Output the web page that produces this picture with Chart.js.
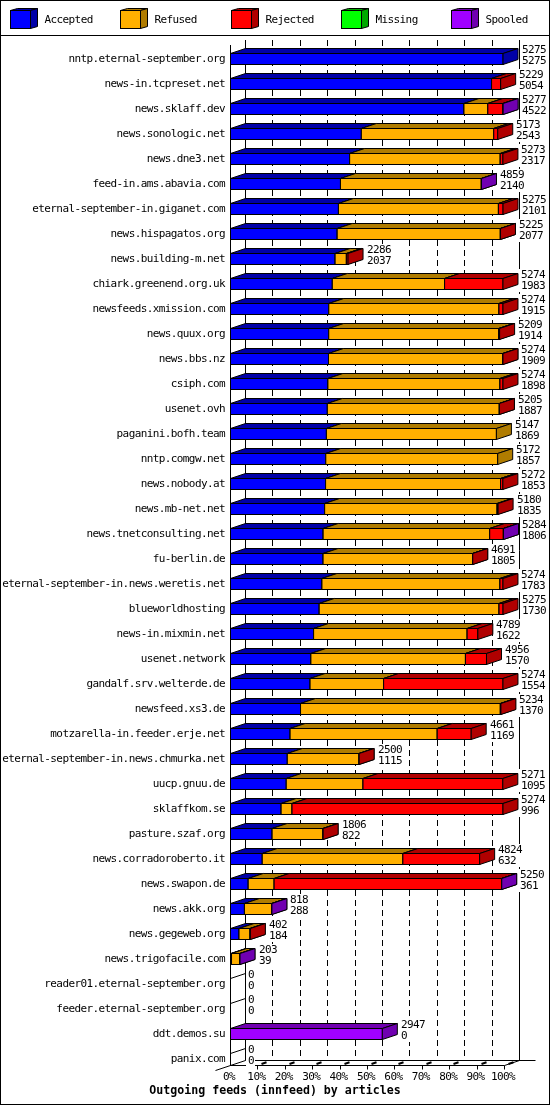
<!DOCTYPE html>
<html>
<head>
<meta charset="utf-8">
<title>Outgoing feeds (innfeed) by articles</title>
<script src="https://cdn.jsdelivr.net/npm/chart.js@4.4.1/dist/chart.umd.min.js"></script>
<style>
  html, body { margin: 0; padding: 0; background: #fff; }
  canvas { display: block; }
</style>
</head>
<body>
<canvas id="feeds" width="550" height="1105"></canvas>
<script>
// Feeds, top to bottom
const hosts = [
  'nntp.eternal-september.org', 'news-in.tcpreset.net', 'news.sklaff.dev', 'news.sonologic.net',
  'news.dne3.net', 'feed-in.ams.abavia.com', 'eternal-september-in.giganet.com', 'news.hispagatos.org',
  'news.building-m.net', 'chiark.greenend.org.uk', 'newsfeeds.xmission.com', 'news.quux.org',
  'news.bbs.nz', 'csiph.com', 'usenet.ovh', 'paganini.bofh.team',
  'nntp.comgw.net', 'news.nobody.at', 'news.mb-net.net', 'news.tnetconsulting.net',
  'fu-berlin.de', 'eternal-september-in.news.weretis.net', 'blueworldhosting', 'news-in.mixmin.net',
  'usenet.network', 'gandalf.srv.welterde.de', 'newsfeed.xs3.de', 'motzarella-in.feeder.erje.net',
  'eternal-september-in.news.chmurka.net', 'uucp.gnuu.de', 'sklaffkom.se', 'pasture.szaf.org',
  'news.corradoroberto.it', 'news.swapon.de', 'news.akk.org', 'news.gegeweb.org',
  'news.trigofacile.com', 'reader01.eternal-september.org', 'feeder.eternal-september.org', 'ddt.demos.su',
  'panix.com'
];

// Articles offered (upper number) and accepted (lower number)
const offered = [5275, 5229, 5277, 5173, 5273, 4859, 5275, 5225, 2286, 5274, 5274, 5209, 5274, 5274, 5205, 5147,
  5172, 5272, 5180, 5284, 4691, 5274, 5275, 4789, 4956, 5274, 5234, 4661, 2500, 5271, 5274, 1806,
  4824, 5250, 818, 402, 203, 0, 0, 2947, 0];
const accepted = [5275, 5054, 4522, 2543, 2317, 2140, 2101, 2077, 2037, 1983, 1915, 1914, 1909, 1898, 1887, 1869,
  1857, 1853, 1835, 1806, 1805, 1783, 1730, 1622, 1570, 1554, 1370, 1169, 1115, 1095, 996, 822,
  632, 361, 288, 184, 39, 0, 0, 0, 0];
const refused = [0, 0, 460, 2553, 2904, 2716, 3085, 3146, 217, 2165, 3282, 3276, 3363, 3318, 3316, 3278,
  3315, 3374, 3326, 3212, 2884, 3433, 3468, 2961, 2980, 1418, 3853, 2837, 1383, 1480, 210, 980,
  2712, 500, 527, 212, 161, 0, 0, 0, 0];
const rejected = [0, 175, 292, 77, 52, 0, 89, 2, 32, 1126, 77, 19, 2, 58, 2, 0,
  0, 45, 19, 263, 2, 58, 77, 206, 406, 2302, 11, 655, 2, 2696, 4068, 4,
  1480, 4386, 0, 6, 0, 0, 0, 0, 0];
const missing = [0, 0, 0, 0, 0, 0, 0, 0, 0, 0, 0, 0, 0, 0, 0, 0,
  0, 0, 0, 0, 0, 0, 0, 0, 0, 0, 0, 0, 0, 0, 0, 0,
  0, 0, 0, 0, 0, 0, 0, 0, 0];
const spooled = [0, 0, 3, 0, 0, 3, 0, 0, 0, 0, 0, 0, 0, 0, 0, 0,
  0, 0, 0, 3, 0, 0, 0, 0, 0, 0, 0, 0, 0, 0, 0, 0,
  0, 3, 3, 0, 3, 0, 0, 2947, 0];

const seriesNames = ['Accepted', 'Refused', 'Rejected', 'Missing', 'Spooled'];
const xTicks = [0, 10, 20, 30, 40, 50, 60, 70, 80, 90, 100];
const chartTitle = 'Outgoing feeds (innfeed) by articles';

// Styles
const frontColors = ['#0000ff', '#ffb000', '#ff0000', '#00ff00', '#a000ff'];
const sideColors = ['#0000a8', '#b07c00', '#b00000', '#00a800', '#7000b0'];
const FONT = 'DejaVu Sans Mono';
const DX = 15, DY = 5;   // depth of the 3d boxes

const series = [accepted, refused, rejected, missing, spooled];
const maxOffered = Math.max(...offered);
const toPct = (arr) => arr.map(v => v / maxOffered * 100);

function line(ctx, x1, y1, x2, y2) {
  ctx.beginPath();
  ctx.moveTo(x1, y1);
  ctx.lineTo(x2, y2);
  ctx.stroke();
}

function poly(ctx, pts, fill) {
  ctx.beginPath();
  ctx.moveTo(pts[0][0], pts[0][1]);
  for (let i = 1; i < pts.length; i++) ctx.lineTo(pts[i][0], pts[i][1]);
  ctx.closePath();
  ctx.fillStyle = fill;
  ctx.fill();
  ctx.stroke();
}

const box3d = {
  id: 'box3d',

  // narrow the wide mono font a little so it matches the original bitmap font
  beforeDraw(chart) {
    chart.ctx.letterSpacing = '-0.6px';
  },

  // back wall with dashed grid
  beforeDatasetsDraw(chart) {
    const {ctx, chartArea, scales: {x, y}} = chart;
    const wallTop = chartArea.top - 6.5;
    const floorBack = y.getPixelForValue(hosts.length - 1) + 6 - DY + 0.5;
    ctx.save();
    ctx.strokeStyle = '#000';
    ctx.lineWidth = 1;
    xTicks.forEach(v => {
      const px = Math.round(x.getPixelForValue(v) + DX) + 0.5;
      ctx.setLineDash(v === 0 || v === 100 ? [] : [6, 4]);
      line(ctx, px, wallTop, px, floorBack);
    });
    ctx.restore();
  },

  // boxes: series by series, left to right, so each one hides the side of the one before
  afterDatasetsDraw(chart) {
    const {ctx, chartArea, scales: {x, y}} = chart;
    const x0 = x.getPixelForValue(0) + 0.5;
    const x100 = x.getPixelForValue(100) + 0.5;
    const floor = y.getPixelForValue(hosts.length - 1) + 6.5;
    ctx.save();
    ctx.strokeStyle = '#000';
    ctx.lineWidth = 1;

    series.forEach((vals, k) => {
      chart.getDatasetMeta(k).data.forEach((bar, i) => {
        if (!(vals[i] > 0)) return;
        const p = bar.getProps(['x', 'y', 'base', 'height'], true);
        const top = p.y - p.height / 2 + 0.5;
        const bottom = p.y + p.height / 2 - 0.5;
        const xl = Math.max(p.base - 0.5, x0);
        const xr = Math.max(xl, p.x - 0.5);
        ctx.fillStyle = frontColors[k];
        ctx.fillRect(xl, top, xr - xl, bottom - top);
        ctx.strokeRect(xl, top, xr - xl, bottom - top);
        poly(ctx, [[xl, top], [xr, top], [xr + DX, top - DY], [xl + DX, top - DY]], sideColors[k]);
        poly(ctx, [[xr, top], [xr + DX, top - DY], [xr + DX, bottom - DY], [xr, bottom]], sideColors[k]);
      });
    });

    // empty feeds still get a flat box edge
    hosts.forEach((h, i) => {
      if (offered[i] > 0) return;
      const top = y.getPixelForValue(i) - 6 + 0.5;
      line(ctx, x0, top, x0 + DX, top - DY);
    });

    // front axis and floor
    line(ctx, x0, chartArea.top - 1.5, x0, floor);
    line(ctx, x0, floor, x100, floor);
    line(ctx, x100, floor, x100 + DX, floor - DY);
    line(ctx, x0 + DX, floor - DY, x100 + DX + 16, floor - DY);
    line(ctx, x0 - DX, floor + DY, x0 + DX, floor - DY);
    xTicks.forEach(v => {
      if (v === 0) return;
      const px = Math.round(x.getPixelForValue(v)) + 0.5;
      line(ctx, px, floor, px, floor + 4);
      ctx.lineWidth = 2;
      line(ctx, px + 4, floor - 1.5, px + 9, floor - 3.2);
      ctx.lineWidth = 1;
    });

    // offered / accepted numbers
    ctx.font = '11px ' + FONT;
    ctx.textBaseline = 'middle';
    ctx.textAlign = 'left';
    hosts.forEach((h, i) => {
      const cy = y.getPixelForValue(i);
      const lx = Math.round(x.getPixelForValue(offered[i] / maxOffered * 100) + DX + 3);
      const t1 = String(offered[i]);
      const t2 = String(accepted[i]);
      const w = Math.max(ctx.measureText(t1).width, ctx.measureText(t2).width);
      ctx.fillStyle = '#fff';
      ctx.fillRect(lx - 2, cy - 15, w + 3, 23);
      ctx.fillStyle = '#000';
      ctx.fillText(t1, lx, cy - 9);
      ctx.fillText(t2, lx, cy + 2);
    });
    ctx.restore();
  },

  // legend, title and frame
  afterDraw(chart) {
    const {ctx, width, height} = chart;
    ctx.save();
    ctx.strokeStyle = '#000';
    ctx.lineWidth = 1;
    ctx.font = '11px ' + FONT;
    ctx.textBaseline = 'middle';
    ctx.textAlign = 'left';
    seriesNames.forEach((name, k) => {
      const bx = Math.round(10 + k * 110.3) + 0.5;
      const t = 10.5, b = 28.5, r = bx + 20;
      ctx.fillStyle = frontColors[k];
      ctx.fillRect(bx, t, 20, 18);
      ctx.strokeRect(bx, t, 20, 18);
      poly(ctx, [[bx, t], [r, t], [r + 7, t - 2], [bx + 7, t - 2]], sideColors[k]);
      poly(ctx, [[r, t], [r + 7, t - 2], [r + 7, b - 2], [r, b]], sideColors[k]);
      ctx.fillStyle = '#000';
      ctx.fillText(name, bx + 34, 20);
    });
    line(ctx, 0, 35.5, width, 35.5);

    ctx.letterSpacing = '0px';
    ctx.font = 'bold 11.6px ' + FONT;
    ctx.textAlign = 'center';
    ctx.fillText(chartTitle, 275, 1091);

    ctx.strokeRect(0.5, 0.5, width - 1, height - 1);
    ctx.restore();
  }
};

new Chart(document.getElementById('feeds'), {
  type: 'bar',
  data: {
    labels: hosts,
    datasets: seriesNames.map((name, k) => ({
      label: name,
      data: toPct(series[k]),
      backgroundColor: frontColors[k],
      borderWidth: 0,
      inflateAmount: 0,
      barThickness: 12,
      clip: false
    }))
  },
  options: {
    indexAxis: 'y',
    responsive: false,
    animation: false,
    layout: { padding: { top: 46.5, right: 46, bottom: 0, left: 0 } },
    plugins: {
      legend: { display: false },
      tooltip: { enabled: false },
      title: { display: false }
    },
    scales: {
      x: {
        stacked: true,
        min: 0,
        max: 100,
        grid: { display: false, drawTicks: false },
        border: { display: false },
        afterBuildTicks(scale) { scale.ticks = xTicks.map(v => ({ value: v })); },
        afterFit(scale) { scale.height = 33.5; },
        ticks: {
          autoSkip: false,
          maxRotation: 0,
          padding: 0,
          labelOffset: -1,
          color: '#000',
          font: { family: FONT, size: 11, lineHeight: 1 },
          callback: (v) => v + '%'
        }
      },
      y: {
        stacked: true,
        grid: { display: false, drawTicks: false },
        border: { display: false },
        afterFit(scale) { scale.width = 230; },
        ticks: {
          autoSkip: false,
          padding: 5,
          color: '#000',
          font: { family: FONT, size: 11 }
        }
      }
    }
  },
  plugins: [box3d]
});
</script>
</body>
</html>
